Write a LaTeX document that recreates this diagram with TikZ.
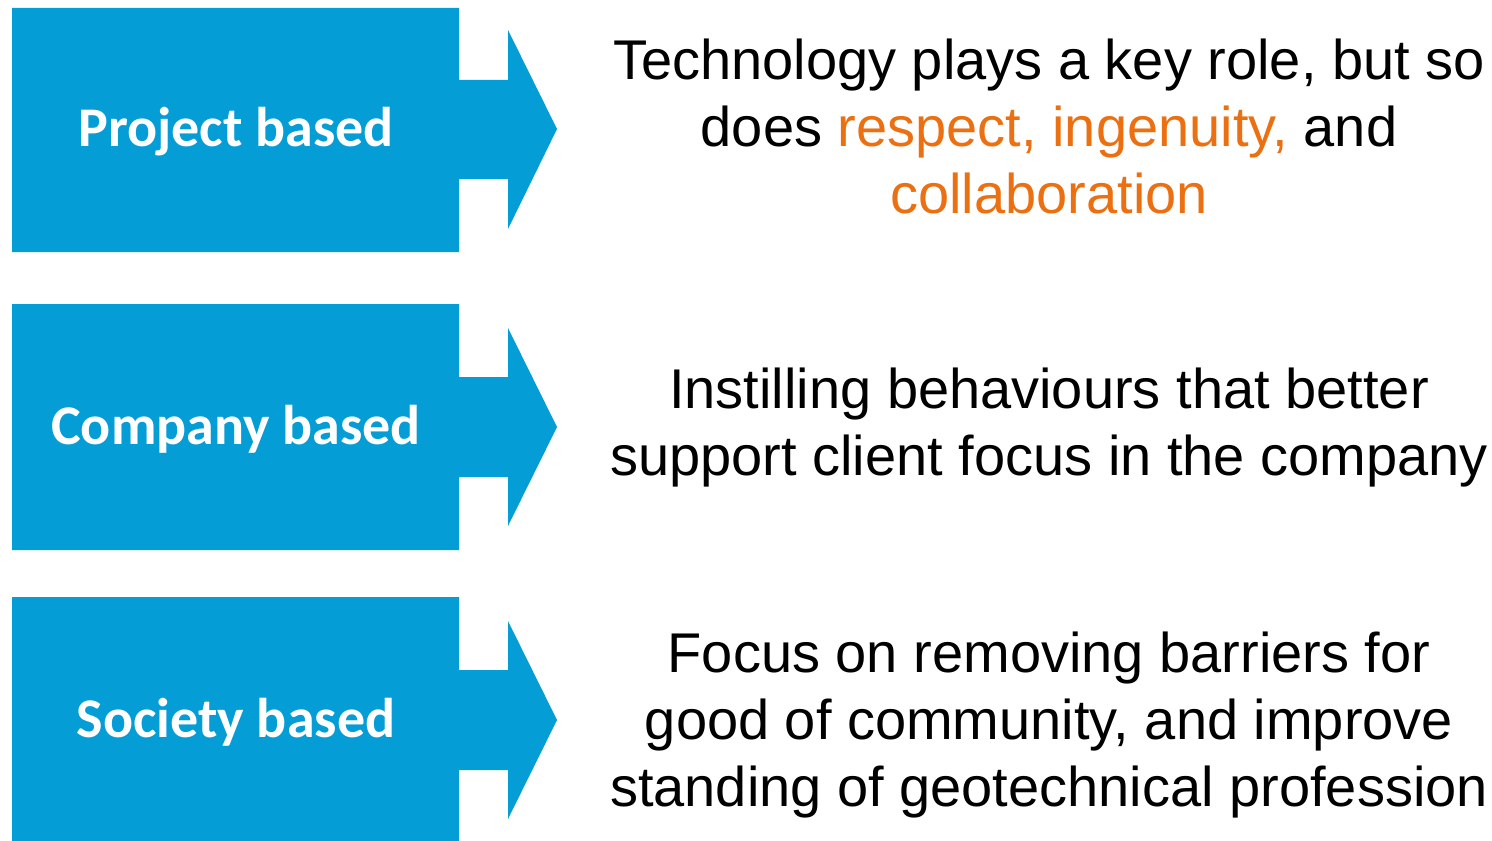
\documentclass[tikz,border=0pt]{standalone}
\usepackage{fontspec}
\setmainfont{Liberation Sans}
\newfontfamily\labelfont{Carlito}
\usepackage{tikz}
\definecolor{boxblue}{HTML}{049DD5}
\definecolor{keyorange}{HTML}{EB7012}

\begin{document}
\begin{tikzpicture}[x=0.5pt,y=-0.5pt,
		box label/.style={text=white,font=\labelfont\fontsize{28}{32}\selectfont\bfseries,anchor=base},
		aim text/.style={align=center,font=\fontsize{28}{33.5}\selectfont}]
		\useasboundingbox (0,0) rectangle (1492,840);
%		\draw[help lines,step=100] (0,0) grid (1492,840);
		\path (12,8) coordinate (proj_nw);
		\path (459,252) coordinate (proj_se);
		\path (459,80) coordinate (proj_shaft_t);
		\path (459,179) coordinate (proj_shaft_b);
		\path (508,30) coordinate (proj_head_t);
		\path (508,229) coordinate (proj_head_b);
		\path (557,129) coordinate (proj_tip);

		\path (12,304) coordinate (comp_nw);
		\path (459,550) coordinate (comp_se);
		\path (459,377) coordinate (comp_shaft_t);
		\path (459,477) coordinate (comp_shaft_b);
		\path (508,328) coordinate (comp_head_t);
		\path (508,526) coordinate (comp_head_b);
		\path (557,427) coordinate (comp_tip);

		\path (12,597) coordinate (soc_nw);
		\path (459,842) coordinate (soc_se);
		\path (459,670) coordinate (soc_shaft_t);
		\path (459,770) coordinate (soc_shaft_b);
		\path (508,621) coordinate (soc_head_t);
		\path (508,819) coordinate (soc_head_b);
		\path (557,720) coordinate (soc_tip);

		\fill[boxblue] (proj_nw) -| (proj_shaft_t) -- (proj_shaft_t -| proj_head_t) -- (proj_head_t)
			-- (proj_tip) -- (proj_head_b) -- (proj_head_b |- proj_shaft_b) -- (proj_shaft_b)
			-- (proj_se) -| (proj_nw) -- cycle;
		\node[box label] (proj_label) at (236,146) {Project based};
		\node[aim text] (proj_text) at (1049,126) {Technology plays a key role, but so\\
			does \textcolor{keyorange}{respect, ingenuity,} and\\
			\textcolor{keyorange}{collaboration}};

		\fill[boxblue] (comp_nw) -| (comp_shaft_t) -- (comp_shaft_t -| comp_head_t) -- (comp_head_t)
			-- (comp_tip) -- (comp_head_b) -- (comp_head_b |- comp_shaft_b) -- (comp_shaft_b)
			-- (comp_se) -| (comp_nw) -- cycle;
		\node[box label] (comp_label) at (236,444) {Company based};
		\node[aim text] (comp_text) at (1049,428) {Instilling behaviours that better\\
			support client focus in the company};

		\fill[boxblue] (soc_nw) -| (soc_shaft_t) -- (soc_shaft_t -| soc_head_t) -- (soc_head_t)
			-- (soc_tip) -- (soc_head_b) -- (soc_head_b |- soc_shaft_b) -- (soc_shaft_b)
			-- (soc_se) -| (soc_nw) -- cycle;
		\node[box label] (soc_label) at (236,737) {Society based};
		\node[aim text] (soc_text) at (1049,725) {Focus on removing barriers for\\
			good of community, and improve\\
			standing of geotechnical profession};
\end{tikzpicture}
\end{document}
